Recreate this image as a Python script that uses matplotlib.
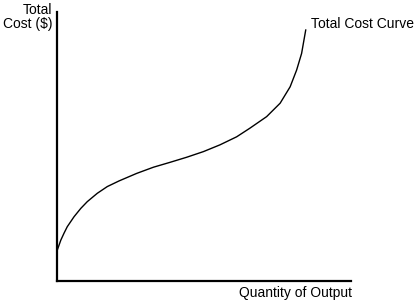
import matplotlib.pyplot as plt

# curve (quantity, total cost) in arbitrary units
quantity = [0.0, 0.01, 0.13, 0.24, 0.35, 0.58, 0.81, 1.03, 1.37, 1.71, 2.11, 2.71,
            3.28, 3.84, 4.41, 4.98, 5.54, 6.11, 6.56, 7.13, 7.59, 7.93, 8.15, 8.32,
            8.41, 8.46]
total_cost = [1.08, 1.15, 1.52, 1.78, 2.02, 2.39, 2.70, 2.95, 3.26, 3.51, 3.72, 4.00,
              4.23, 4.41, 4.60, 4.81, 5.06, 5.36, 5.68, 6.11, 6.61, 7.22, 7.84, 8.46,
              9.02, 9.33]

plt.rcParams['font.family'] = ['Liberation Sans', 'DejaVu Sans']

fig = plt.figure(figsize=(4.15, 3.01), dpi=100)
ax = fig.add_axes([57 / 415, 20 / 301, 294 / 415, 269 / 301])
ax.plot(quantity, total_cost, color='black', lw=1.0, solid_joinstyle='round')
ax.set_xlim(0, 10)
ax.set_ylim(0, 10)

ax.spines['top'].set_visible(False)
ax.spines['right'].set_visible(False)
ax.spines['left'].set_linewidth(1.6)
ax.spines['bottom'].set_linewidth(1.6)
ax.set_xticks([])
ax.set_yticks([])

fig.text(52 / 415, 1 - 3 / 301, 'Total\nCost ($)', ha='right', va='top', fontsize=10, linespacing=1.0)
fig.text(352 / 415, 1 - 293 / 301, 'Quantity of Output', ha='right', va='center', fontsize=10)
fig.text(311 / 415, 1 - 24 / 301, 'Total Cost Curve', ha='left', va='center', fontsize=10)

fig.savefig('out.png', dpi=100)
